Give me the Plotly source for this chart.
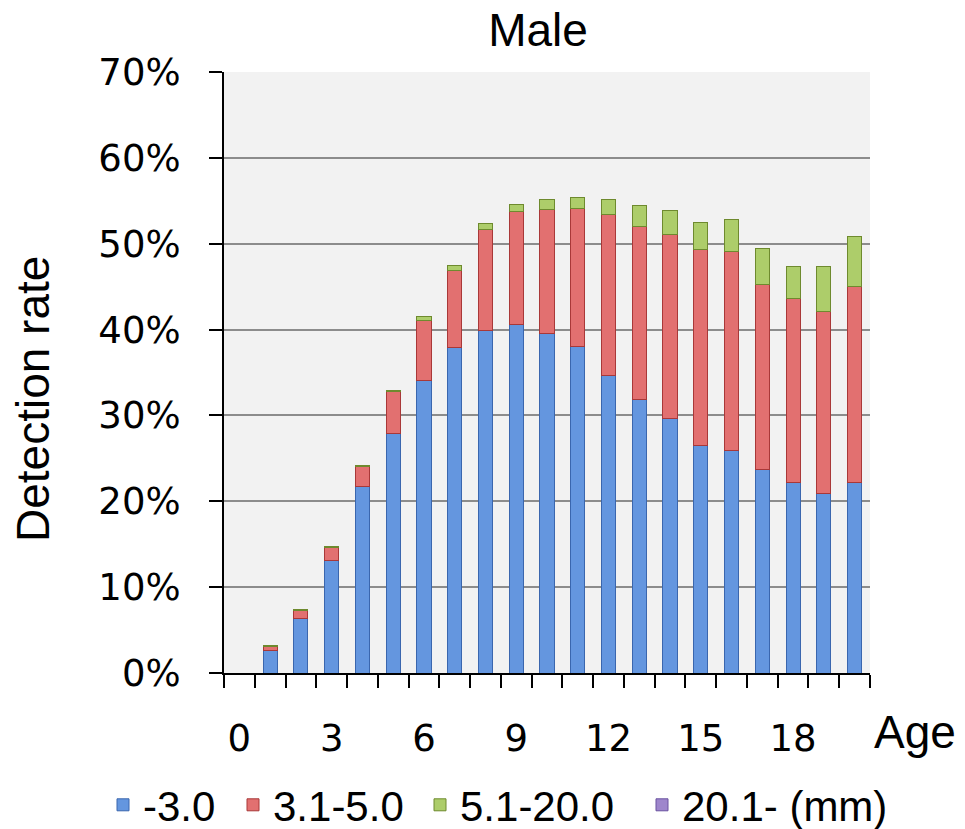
import plotly.graph_objects as go

ages = list(range(0, 21))
# segment heights (%)
size_le3 = [0, 2.6, 6.3, 13.1, 21.7, 27.9, 34.1, 37.9, 39.9, 40.6, 39.5, 38.0, 34.7, 31.9, 29.7, 26.5, 25.9, 23.7, 22.2, 20.9, 22.2]
size_3to5 = [0, 0.5, 1.0, 1.5, 2.4, 4.9, 7.0, 9.0, 11.7, 13.2, 14.5, 16.1, 18.7, 20.1, 21.4, 22.8, 23.2, 21.5, 21.4, 21.2, 22.8]
size_5to20 = [0, 0.1, 0.1, 0.1, 0.1, 0.1, 0.4, 0.6, 0.7, 0.8, 1.2, 1.3, 1.7, 2.4, 2.8, 3.2, 3.7, 4.3, 3.8, 5.2, 5.8]
size_gt20 = [0] * 21

series_names = ["-3.0", "3.1-5.0", "5.1-20.0", "20.1- (mm)"]
series_vals = [size_le3, size_3to5, size_5to20, size_gt20]
fills = ["#6496DF", "#E27070", "#ADCD6A", "#9E86CC"]
lines = ["#3A66AE", "#A93838", "#6E8A2E", "#6A52A0"]
legend_ids = ["legend", "legend2", "legend3", "legend4"]
legend_text_x = [143, 273, 460, 682]

tick_vals = [a for a in ages if a % 3 == 0 and a <= 18]
tick_labels = [str(a) for a in tick_vals]

fig = go.Figure()
for name, vals, fc, lc, lg in zip(series_names, series_vals, fills, lines, legend_ids):
    fig.add_trace(go.Bar(
        x=ages, y=[v / 100 if v > 0 else None for v in vals], name=name,
        marker=dict(color=fc, line=dict(color=lc, width=1)),
        width=0.46, legend=lg, showlegend=True,
    ))

boundaries = [a - 0.5 for a in ages] + [ages[-1] + 0.5]

legend_font = dict(family="Liberation Sans, Arial", size=42, color="black")
legends = {}
for lg, tx in zip(legend_ids, legend_text_x):
    legends[lg] = dict(orientation="h", xref="container", yref="container",
                       x=(tx - 40) / 965, xanchor="left",
                       y=1 - 805 / 829, yanchor="middle",
                       font=legend_font, bgcolor="rgba(0,0,0,0)")

fig.update_layout(
    barmode="stack",
    width=965, height=829,
    margin=dict(l=224, r=95, t=72, b=156, autoexpand=False),
    paper_bgcolor="white",
    plot_bgcolor="#F2F2F2",
    showlegend=True,
    title=dict(text="Male", x=538 / 965, xref="container", xanchor="center",
               y=1 - 30 / 829, yref="container", yanchor="middle",
               font=dict(family="Liberation Sans, Arial", size=46, color="black")),
    xaxis=dict(
        range=[-0.5, ages[-1] + 0.5],
        tickmode="array", tickvals=tick_vals, ticktext=tick_labels,
        ticks="", ticklabelstandoff=32, automargin=False,
        tickfont=dict(family="DejaVu Sans, Verdana", size=37, color="black"),
        showline=True, linecolor="black", linewidth=2,
        showgrid=False, zeroline=False,
        minor=dict(ticks="outside", tickmode="array", tickvals=boundaries,
                   ticklen=13, tickwidth=2, tickcolor="black", showgrid=False),
    ),
    yaxis=dict(
        range=[0, 0.7], tickmode="linear", tick0=0, dtick=0.1,
        tickformat=".0%", automargin=False,
        ticks="outside", ticklen=13, tickwidth=2, tickcolor="black",
        ticklabelstandoff=21,
        tickfont=dict(family="DejaVu Sans, Verdana", size=37, color="black"),
        showline=True, linecolor="black", linewidth=2,
        showgrid=True, gridcolor="#8C8C8C", gridwidth=2,
        zeroline=False,
    ),
    annotations=[
        dict(text="Detection rate", xref="paper", yref="paper",
             x=(33 - 224) / 646, y=(673 - 399) / 601, textangle=-90,
             showarrow=False, xanchor="center", yanchor="middle",
             font=dict(family="Liberation Sans, Arial", size=46, color="black")),
        dict(text="Age", xref="paper", yref="paper",
             x=(915 - 224) / 646, y=(673 - 732) / 601,
             showarrow=False, xanchor="center", yanchor="middle",
             font=dict(family="Liberation Sans, Arial", size=46, color="black")),
    ],
    **legends,
)

fig.write_html("out.html")
